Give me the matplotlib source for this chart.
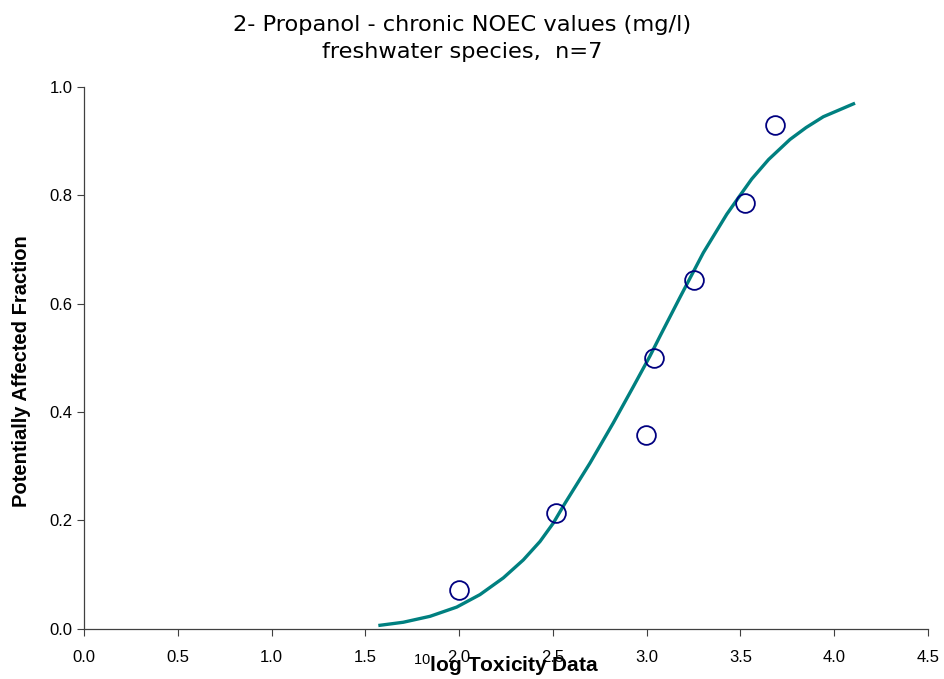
import matplotlib
import matplotlib.pyplot as plt

matplotlib.use("Agg")

# observed data (log10 NOEC vs. rank fraction)
log_tox = [2.00, 2.515, 2.995, 3.04, 3.25, 3.525, 3.685]
paf_points = [0.071, 0.214, 0.357, 0.500, 0.643, 0.786, 0.929]

# fitted curve
curve_x = [1.569, 1.702, 1.845, 1.987, 2.111, 2.236, 2.342, 2.431, 2.502, 2.565,
           2.698, 2.822, 2.929, 3.017, 3.071, 3.178, 3.302, 3.427, 3.488, 3.560,
           3.650, 3.764, 3.850, 3.942, 4.030, 4.111]
curve_y = [0.006, 0.012, 0.023, 0.040, 0.063, 0.094, 0.127, 0.161, 0.195, 0.232,
           0.306, 0.380, 0.447, 0.503, 0.540, 0.612, 0.694, 0.765, 0.795, 0.830,
           0.866, 0.903, 0.925, 0.945, 0.958, 0.970]

x_ticks = [0.0, 0.5, 1.0, 1.5, 2.0, 2.5, 3.0, 3.5, 4.0, 4.5]
y_ticks = [0.0, 0.2, 0.4, 0.6, 0.8, 1.0]

plt.rcParams["font.family"] = ["Liberation Sans", "DejaVu Sans"]
plt.rcParams["mathtext.fontset"] = "custom"
plt.rcParams["mathtext.rm"] = "Liberation Sans"
plt.rcParams["mathtext.it"] = "Liberation Sans"

fig = plt.figure(figsize=(9.45, 6.79), dpi=100, facecolor="white")
ax = fig.add_axes([0.089, 0.074, 0.893, 0.798])

ax.plot(curve_x, curve_y, color="#008080", linewidth=2.4, zorder=2,
        solid_joinstyle="round", solid_capstyle="butt")
ax.plot(log_tox, paf_points, linestyle="none", marker="o", markersize=13.5,
        markerfacecolor="none", markeredgecolor="#000080", markeredgewidth=1.3, zorder=3)

ax.set_xlim(0, 4.5)
ax.set_ylim(0, 1.0)
ax.set_xticks(x_ticks, [f"{v:.1f}" for v in x_ticks])
ax.set_yticks(y_ticks, [f"{v:.1f}" for v in y_ticks])
ax.tick_params(direction="out", length=5, width=0.8, labelsize=12, color="#404040")
ax.tick_params(axis="x", pad=10)
for side in ["top", "right"]:
    ax.spines[side].set_visible(False)
for side in ["left", "bottom"]:
    ax.spines[side].set_color("#404040")
    ax.spines[side].set_linewidth(0.9)

ax.set_ylabel("Potentially Affected Fraction", fontsize=14.5, fontweight="bold")
ax.yaxis.set_label_coords(-0.063, 0.476)
ax.set_xlabel(r"$^{10}$log Toxicity Data", fontsize=15, fontweight="bold")
ax.xaxis.set_label_coords(0.5, -0.043)

fig.text(0.489, 0.978, "2- Propanol - chronic NOEC values (mg/l)\nfreshwater species,  n=7",
         ha="center", va="top", fontsize=16.2, family="DejaVu Sans", linespacing=1.45)

fig.savefig("out.png", dpi=100, facecolor="white")
